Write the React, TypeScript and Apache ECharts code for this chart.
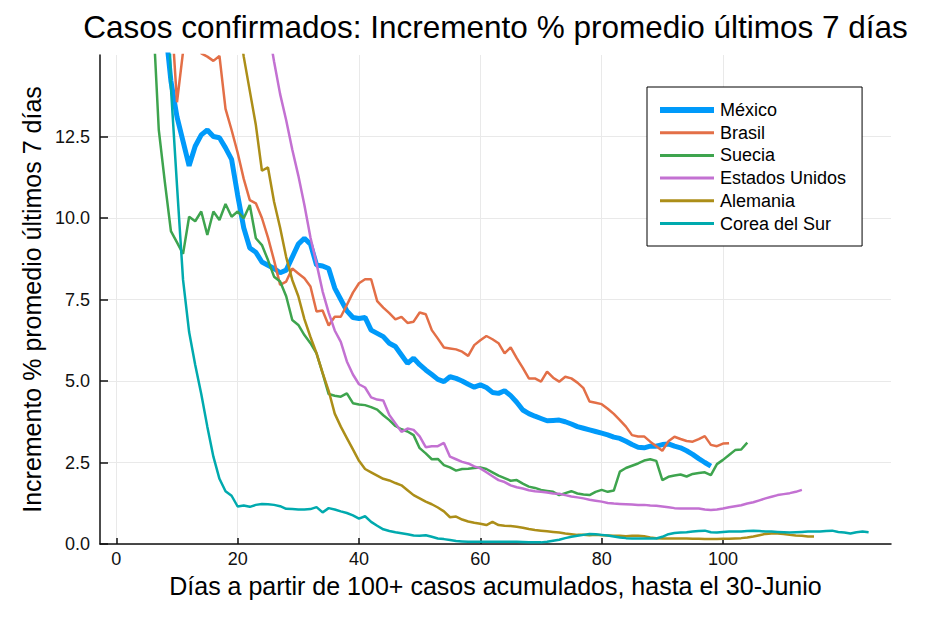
import React, { useEffect, useRef } from "react";
import * as echarts from "echarts";

const TITLE = "Casos confirmados: Incremento % promedio últimos 7 días";
const X_NAME = "Días a partir de 100+ casos acumulados, hasta el 30-Junio";
const Y_NAME = "Incremento % promedio últimos 7 días";

const COUNTRIES = ["México", "Brasil", "Suecia", "Estados Unidos", "Alemania", "Corea del Sur"];
const COLORS = ["#009AFA", "#E36F47", "#3EA44E", "#C371D2", "#AC8E18", "#00AAAE"];

const X_TICKS = [0, 20, 40, 60, 80, 100];
const Y_TICKS = [0, 2.5, 5, 7.5, 10, 12.5];

// values by day (day 1 first)
const mexico = [
  60, 48, 38, 31, 26, 22, 18.5, 16.0, 14.2, 13.1,
  12.35, 11.6, 12.2, 12.55, 12.7, 12.5, 12.46, 12.15, 11.8, 10.7,
  9.7, 9.08, 8.95, 8.65, 8.55, 8.45, 8.32, 8.4, 8.8, 9.2,
  9.38, 9.2, 8.56, 8.53, 8.45, 7.85, 7.5, 7.15, 6.95, 6.92,
  6.95, 6.56, 6.46, 6.36, 6.16, 6.06, 5.8, 5.54, 5.7, 5.5,
  5.34, 5.2, 5.05, 4.98, 5.13, 5.08, 5.0, 4.9, 4.81, 4.88,
  4.8, 4.65, 4.62, 4.7, 4.55, 4.35, 4.11, 4.0, 3.92, 3.85,
  3.78, 3.79, 3.8, 3.75, 3.68, 3.6, 3.55, 3.5, 3.45, 3.4,
  3.35, 3.28, 3.24, 3.15, 3.05, 2.97, 2.95, 3.0, 3.0, 3.05,
  3.07, 3.0, 2.95, 2.86, 2.75, 2.62, 2.5, 2.39,
];
const brasil = [
  70, 55, 45, 38, 32, 27, 23, 19.5, 16.5, 13.55,
  15.1, 17.0, 16.0, 15.05, 14.95, 14.82, 14.97, 13.35, 12.7, 12.0,
  11.2, 10.55, 10.45, 10.0, 9.4, 8.7, 7.95, 8.05, 8.45, 8.3,
  8.15, 7.9, 7.13, 7.16, 6.7, 6.97, 6.97, 7.33, 7.71, 8.0,
  8.12, 8.12, 7.45, 7.25, 7.08, 6.89, 6.97, 6.78, 6.82, 7.1,
  7.05, 6.56, 6.3, 6.03, 6.0, 5.97, 5.9, 5.77, 6.1, 6.25,
  6.38, 6.28, 6.16, 5.85, 6.03, 5.7, 5.4, 5.08, 5.08, 4.98,
  5.29, 5.1, 4.98, 5.13, 5.08, 4.95, 4.78, 4.37, 4.33, 4.29,
  4.15, 3.99, 3.8, 3.6, 3.34, 3.3, 3.3, 3.14, 3.0, 2.86,
  3.15, 3.29, 3.22, 3.16, 3.14, 3.22, 3.31, 3.04, 3.0, 3.08,
  3.09,
];
const suecia = [
  50, 42, 35, 28, 22, 16.4, 12.7, 11.1, 9.6, 9.25,
  8.9, 10.04, 9.9, 10.2, 9.48, 10.2, 9.94, 10.43, 10.04, 10.2,
  9.99, 10.4, 9.38, 9.17, 8.71, 8.2, 8.05, 7.6, 6.87, 6.72,
  6.41, 6.16, 5.85, 5.24, 4.6, 4.55, 4.52, 4.62, 4.32, 4.28,
  4.26, 4.2, 4.12, 3.95, 3.8, 3.62, 3.52, 3.45, 3.34, 2.94,
  2.78, 2.6, 2.61, 2.42, 2.35, 2.25, 2.3, 2.31, 2.33, 2.35,
  2.3, 2.2, 2.1, 2.02, 1.94, 1.96, 1.85, 1.76, 1.72, 1.66,
  1.63, 1.6, 1.5, 1.56, 1.62, 1.55, 1.52, 1.5, 1.6, 1.66,
  1.6, 1.64, 2.22, 2.33, 2.4, 2.47, 2.56, 2.6, 2.55, 1.96,
  2.06, 2.1, 2.13, 2.07, 2.15, 2.18, 2.2, 2.11, 2.45, 2.58,
  2.73, 2.88, 2.9, 3.11,
];
const estadosUnidos = [
  75, 62, 52, 45, 40, 37, 35, 33, 31, 30,
  29, 28, 27, 26, 25, 24, 23, 22, 21, 20,
  19.2, 18.4, 17.5, 16.8, 15.9, 14.8, 13.8, 13.0, 12.1, 11.3,
  10.4, 9.4, 8.6, 7.75, 7.1, 6.55, 6.2, 5.6, 5.2, 4.9,
  4.8, 4.5, 4.43, 4.4, 3.96, 3.7, 3.44, 3.54, 3.5, 3.3,
  2.97, 3.0, 3.0, 3.1, 2.68, 2.6, 2.52, 2.47, 2.38, 2.32,
  2.2, 2.08, 1.96, 1.9, 1.8, 1.74, 1.7, 1.65, 1.62, 1.6,
  1.58, 1.55, 1.54, 1.5, 1.46, 1.43, 1.4, 1.36, 1.33, 1.3,
  1.26, 1.24, 1.23, 1.22, 1.21, 1.2, 1.2, 1.18, 1.17, 1.15,
  1.13, 1.1, 1.09, 1.09, 1.09, 1.09, 1.06, 1.04, 1.06, 1.09,
  1.13, 1.16, 1.19, 1.24, 1.28, 1.34, 1.4, 1.45, 1.5, 1.53,
  1.56, 1.6, 1.66,
];
const alemania = [
  70, 60, 52, 46, 41, 37, 34, 31, 29, 27,
  25.5, 24, 23, 22, 21, 20, 19, 18.2, 17.3, 16.3,
  14.95, 13.9, 12.85, 11.45, 11.55, 10.5, 9.7, 8.8, 8.1, 7.6,
  6.9, 6.35, 5.85, 5.25, 4.7, 4.0, 3.6, 3.25, 2.9, 2.55,
  2.3, 2.2, 2.1, 2.0, 1.95, 1.87, 1.8, 1.65, 1.5, 1.4,
  1.3, 1.22, 1.12, 1.0, 0.82, 0.84, 0.75, 0.69, 0.65, 0.62,
  0.58, 0.68, 0.58, 0.56, 0.55, 0.53, 0.5, 0.46, 0.43, 0.41,
  0.39, 0.37, 0.35, 0.32, 0.3, 0.28, 0.28, 0.27, 0.28, 0.27,
  0.26, 0.25, 0.25, 0.24, 0.25, 0.25, 0.24, 0.2, 0.18, 0.17,
  0.17, 0.17, 0.17, 0.17, 0.16, 0.16, 0.15, 0.15, 0.15, 0.16,
  0.16, 0.17, 0.18, 0.2, 0.23, 0.27, 0.31, 0.32, 0.32, 0.31,
  0.28, 0.26, 0.25, 0.23, 0.23,
];
const coreaDelSur = [
  80, 65, 52, 42, 36, 33, 30, 21, 14.0, 11.0,
  8.1, 6.5, 5.5, 4.6, 3.6, 2.68, 2.0, 1.62, 1.48, 1.15,
  1.18, 1.14, 1.2, 1.23, 1.22, 1.2, 1.16, 1.08, 1.07, 1.06,
  1.06, 1.07, 1.13, 0.97, 1.1, 1.06, 1.0, 0.95, 0.88, 0.78,
  0.85, 0.68, 0.56, 0.45, 0.4, 0.36, 0.33, 0.3, 0.26, 0.25,
  0.27, 0.22, 0.17, 0.15, 0.12, 0.09, 0.08, 0.07, 0.07, 0.07,
  0.07, 0.07, 0.07, 0.07, 0.07, 0.07, 0.06, 0.05, 0.05, 0.05,
  0.07, 0.1, 0.13, 0.18, 0.22, 0.25, 0.28, 0.31, 0.3, 0.28,
  0.26, 0.23, 0.2, 0.18, 0.17, 0.17, 0.17, 0.17, 0.17, 0.22,
  0.3, 0.34, 0.35, 0.36, 0.38, 0.4, 0.41, 0.36, 0.35, 0.37,
  0.38, 0.38, 0.38, 0.4, 0.41, 0.4, 0.38, 0.38, 0.37, 0.36,
  0.35, 0.36, 0.37, 0.38, 0.38, 0.38, 0.4, 0.41, 0.37, 0.35,
  0.32, 0.36, 0.38, 0.36,
];

const SERIES_VALUES = [mexico, brasil, suecia, estadosUnidos, alemania, coreaDelSur];
const LINE_WIDTHS = [5, 2.5, 2.5, 2.5, 2.5, 2.5];

const FONT = "'Liberation Sans', Arial, Helvetica, sans-serif";

export default function App() {
  const ref = useRef<HTMLDivElement>(null);

  useEffect(() => {
    if (!ref.current) return;
    const chart = echarts.init(ref.current, undefined, { renderer: "svg" });

    const series = COUNTRIES.map((name, k) => ({
      name,
      type: "line",
      data: SERIES_VALUES[k].map((v, i) => [i + 1, v]),
      symbol: "none",
      showSymbol: false,
      clip: true,
      smooth: false,
      z: 2 + k,
      lineStyle: { color: COLORS[k], width: LINE_WIDTHS[k] },
      itemStyle: { color: COLORS[k] },
      emphasis: { disabled: true },
    }));

    chart.setOption({
      animation: false,
      backgroundColor: "#ffffff",
      textStyle: { fontFamily: FONT },
      grid: { left: 100, right: 49, top: 55, bottom: 84, outerBoundsMode: "none", containLabel: false },
      graphic: [
        {
          type: "text",
          x: 495.5,
          y: 27,
          style: {
            text: TITLE,
            font: `31.5px ${FONT}`,
            fill: "#000",
            textAlign: "center",
            textVerticalAlign: "middle",
          },
        },
      ],
      legend: {
        orient: "vertical",
        left: 647,
        top: 87,
        padding: [14, 16, 13.5, 10],
        itemWidth: 54,
        itemHeight: 14,
        itemGap: 4.7,
        backgroundColor: "#ffffff",
        borderColor: "#000",
        borderWidth: 1,
        borderRadius: 0,
        itemStyle: { opacity: 0 },
        textStyle: { fontSize: 18, color: "#000", fontFamily: FONT, padding: [0, 0, 0, 1] },
        data: COUNTRIES.map((name, k) => ({
          name,
          lineStyle: { width: k === 0 ? 6 : 3, color: COLORS[k] },
        })),
        selectedMode: false,
      },
      xAxis: {
        type: "value",
        min: -2.69,
        max: 127.69,
        name: X_NAME,
        nameLocation: "middle",
        nameGap: 29,
        nameTextStyle: { fontSize: 25, color: "#000", fontFamily: FONT },
        axisLine: { show: true, onZero: false, lineStyle: { color: "#111", width: 1.5 } },
        axisTick: { show: true, inside: true, length: 6, customValues: X_TICKS, lineStyle: { color: "#111", width: 1.5 } },
        axisLabel: { customValues: X_TICKS, fontSize: 18, color: "#111", margin: 6, fontFamily: FONT },
        splitLine: { show: true, lineStyle: { color: "#e9e9e9", width: 1 } },
      },
      yAxis: {
        type: "value",
        min: 0,
        max: 15,
        name: Y_NAME,
        nameLocation: "middle",
        nameGap: 52,
        nameTextStyle: { fontSize: 25, color: "#000", fontFamily: FONT },
        axisLine: { show: true, onZero: false, lineStyle: { color: "#111", width: 1.5 } },
        axisTick: { show: true, inside: true, length: 8, customValues: Y_TICKS, lineStyle: { color: "#111", width: 1.5 } },
        axisLabel: {
          customValues: Y_TICKS,
          fontSize: 18,
          color: "#111",
          margin: 10,
          fontFamily: FONT,
          formatter: (v: number) => v.toFixed(1),
        },
        splitLine: { show: true, lineStyle: { color: "#e9e9e9", width: 1 } },
      },
      series,
    });

    return () => chart.dispose();
  }, []);

  return (
    <div
      ref={ref}
      style={{ position: "fixed", left: 0, top: 0, width: 940, height: 628, background: "#fff" }}
    />
  );
}
